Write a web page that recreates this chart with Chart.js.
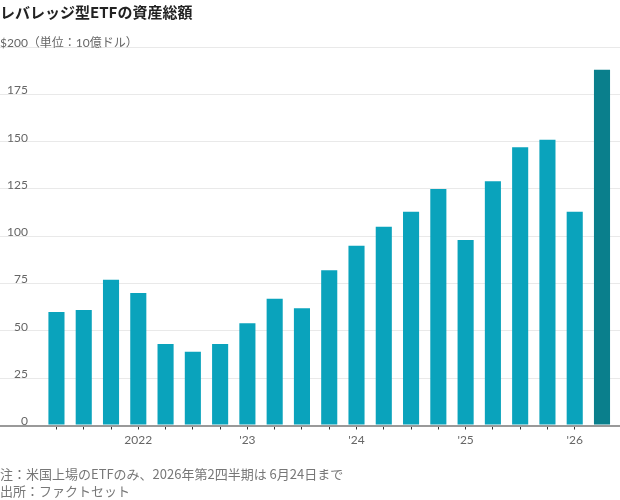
<!DOCTYPE html>
<html>
<head>
<meta charset="utf-8">
<script src="https://cdn.jsdelivr.net/npm/chart.js@4/dist/chart.umd.min.js"></script>
<style>
  html, body { margin: 0; padding: 0; background: #fff; }
  #wrap { width: 620px; height: 500px; position: relative; }
</style>
</head>
<body>
<div id="wrap"><canvas id="chart"></canvas></div>
<script>
// 四半期ごとのレバレッジ型ETF資産総額（10億ドル）
const quarters = [
  '2021 Q2', '2021 Q3', '2021 Q4',
  '2022 Q1', '2022 Q2', '2022 Q3', '2022 Q4',
  '2023 Q1', '2023 Q2', '2023 Q3', '2023 Q4',
  '2024 Q1', '2024 Q2', '2024 Q3', '2024 Q4',
  '2025 Q1', '2025 Q2', '2025 Q3', '2025 Q4',
  '2026 Q1', '2026 Q2'
];
const assets = [
  60, 61, 77,
  70, 43, 39, 43,
  54, 67, 62, 82,
  95, 105, 113, 125,
  98, 129, 147, 151,
  113, 188
];
const yearLabels = [
  '', '', '',
  '2022', '', '', '',
  "'23", '', '', '',
  "'24", '', '', '',
  "'25", '', '', '',
  "'26", ''
];
const yTicks = [0, 25, 50, 75, 100, 125, 150, 175, 200];

const mainColor = '#0aa3bc';
const lastColor = '#0a7f8c';
const latin = 'Lato, "Noto Sans CJK JP", sans-serif';
const cjk = '"Noto Sans CJK JP", Lato, sans-serif';

const ctx = document.getElementById('chart').getContext('2d');
const chart = new Chart(ctx, {
    type: 'bar',
    data: {
        labels: quarters,
        datasets: [{
            data: assets.map((v, i) => ({ x: i, y: v })),
            backgroundColor: assets.map((v, i) => i === assets.length - 1 ? lastColor : mainColor),
            barPercentage: 0.59,
            categoryPercentage: 1
        }]
    },
    options: {
        responsive: true,
        maintainAspectRatio: false,
        animation: false,
        layout: { padding: { left: 0, right: 0, top: 0, bottom: 0 } },
        plugins: {
            legend: { display: false },
            tooltip: { enabled: false },
            title: {
                display: true,
                text: 'レバレッジ型ETFの資産総額',
                align: 'start',
                color: '#222',
                font: { family: cjk, size: 15, weight: 'bold' },
                padding: { top: 3, bottom: 26 }
            },
            subtitle: {
                display: true,
                position: 'bottom',
                align: 'start',
                text: ['注：米国上場のETFのみ、2026年第2四半期は 6月24日まで', '出所：ファクトセット'],
                color: '#777',
                font: { family: cjk, size: 13, lineHeight: 1.35 },
                padding: { top: 15, bottom: 0 }
            }
        },
        scales: {
            x: {
                type: 'linear',
                offset: false,
                min: -2.07,
                max: 20.66,
                afterBuildTicks: (scale) => {
                    scale.ticks = quarters.slice(0, quarters.length - 1).map((q, i) => ({ value: i }));
                },
                border: { display: false },
                grid: {
                    offset: false,
                    drawOnChartArea: false,
                    drawTicks: true,
                    tickLength: 4,
                    tickColor: '#333',
                    tickWidth: 1
                },
                ticks: {
                    autoSkip: false,
                    maxRotation: 0,
                    padding: 3,
                    color: '#666',
                    font: { family: latin, size: 12 },
                    callback: (value) => yearLabels[value] || ''
                }
            },
            y: {
                min: 0,
                max: 200,
                afterBuildTicks: (scale) => {
                    scale.ticks = yTicks.map(v => ({ value: v }));
                },
                border: { display: false },
                grid: {
                    drawTicks: false,
                    color: (c) => c.tick && c.tick.value === 0 ? '#999' : '#e9e9e9',
                    lineWidth: (c) => c.tick && c.tick.value === 0 ? 2 : 1
                },
                ticks: {
                    mirror: true,
                    padding: 0,
                    labelOffset: -4,
                    color: '#666',
                    font: { family: latin, size: 12 },
                    callback: (value) => value === 200
                        ? '$200（単位：10億ドル）'
                        : String(value).padStart(4, '\u2007')
                }
            }
        }
    }
});
</script>
</body>
</html>
